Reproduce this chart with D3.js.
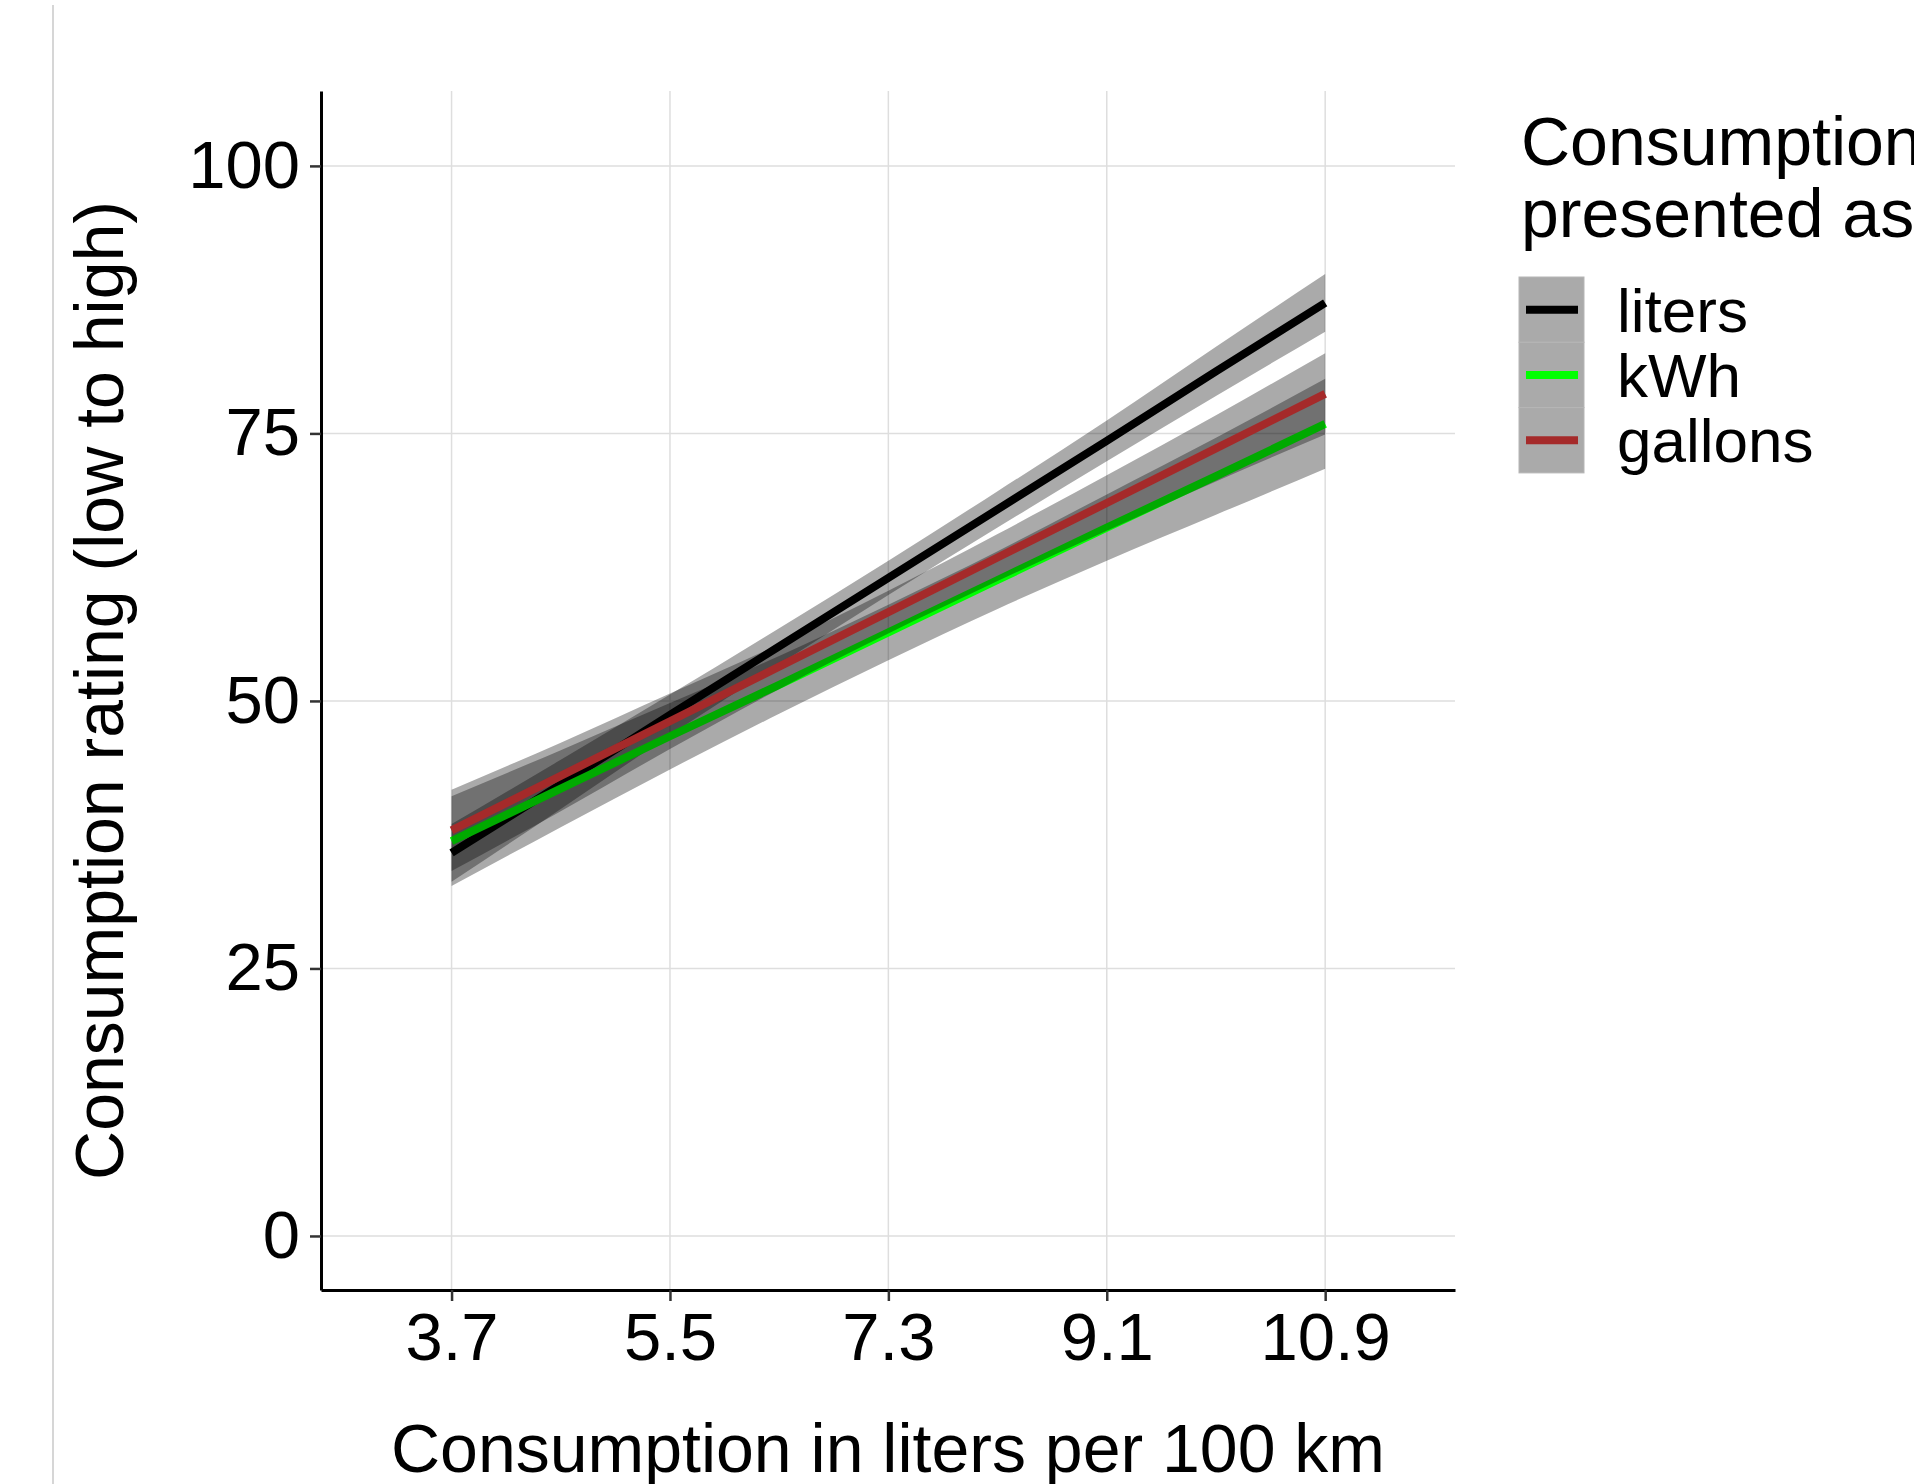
<!DOCTYPE html>
<html>
<head>
<meta charset="utf-8">
<script src="https://cdn.jsdelivr.net/npm/d3@7"></script>
<style>
  body { margin: 0; background: #fff; }
  text { font-family: "Liberation Sans", Arial, Helvetica, sans-serif; }
</style>
</head>
<body>
<script>

var xs = [3.7, 4.6, 5.5, 6.4, 7.3, 8.2, 9.1, 10.0, 10.9];
var xTicks = [3.7, 5.5, 7.3, 9.1, 10.9];
var yTicks = [0, 25, 50, 75, 100];

var seriesNames = ["liters", "kWh", "gallons"];
var seriesColors = ["#000000", "#00ff00", "#a52a2a"];

// fitted line + confidence band, per series
var litersFit  = [35.8, 42.2, 48.7, 55.1, 61.5, 67.9, 74.3, 80.8, 87.2];
var litersLow  = [33.1, 39.9, 46.8, 53.4, 59.9, 66.2, 72.4, 78.5, 84.5];
var litersHigh = [38.5, 44.5, 50.6, 56.8, 63.1, 69.6, 76.2, 83.1, 89.9];

var kwhFit  = [36.9, 41.8, 46.7, 51.5, 56.4, 61.3, 66.2, 71.0, 75.9];
var kwhLow  = [32.7, 38.2, 43.6, 48.8, 53.8, 58.6, 63.1, 67.4, 71.7];
var kwhHigh = [41.1, 45.4, 49.8, 54.2, 59.0, 64.0, 69.3, 74.6, 80.1];

var gallonsFit  = [37.9, 43.0, 48.1, 53.2, 58.3, 63.4, 68.5, 73.6, 78.7];
var gallonsLow  = [34.1, 39.7, 45.5, 51.1, 56.3, 61.2, 65.9, 70.5, 74.9];
var gallonsHigh = [41.7, 46.1, 50.7, 55.3, 60.3, 65.6, 71.1, 76.7, 82.5];

var fits = [litersFit, kwhFit, gallonsFit];
var lows = [litersLow, kwhLow, gallonsLow];
var highs = [litersHigh, kwhHigh, gallonsHigh];

var W = 1914, H = 1484;
var pLeft = 321, pRight = 1455, pTop = 91, pBottom = 1290;

var svg = d3.select("body").append("svg")
  .attr("width", W)
  .attr("height", H);

var x = d3.scaleLinear().domain([2.624, 11.97]).range([pLeft, pRight]);
var y = d3.scaleLinear().domain([-5.05, 107]).range([pBottom, pTop]);

// thin grey line at the far left
svg.append("line")
  .attr("x1", 53).attr("x2", 53)
  .attr("y1", 5).attr("y2", H)
  .attr("stroke", "#c8c8c8")
  .attr("stroke-width", 1.5);

// grid
var grid = svg.append("g");
grid.selectAll(".gx").data(xTicks).enter().append("line")
  .attr("x1", function(d) { return x(d); })
  .attr("x2", function(d) { return x(d); })
  .attr("y1", pTop).attr("y2", pBottom)
  .attr("stroke", "#dedede").attr("stroke-width", 1.5);
grid.selectAll(".gy").data(yTicks).enter().append("line")
  .attr("y1", function(d) { return y(d); })
  .attr("y2", function(d) { return y(d); })
  .attr("x1", pLeft).attr("x2", pRight)
  .attr("stroke", "#dedede").attr("stroke-width", 1.5);

// ribbons and lines, drawn group by group like geom_smooth does
var area = d3.area()
  .x(function(d) { return x(d.x); })
  .y0(function(d) { return y(d.lo); })
  .y1(function(d) { return y(d.hi); })
  .curve(d3.curveMonotoneX);

var line = d3.line()
  .x(function(d) { return x(d.x); })
  .y(function(d) { return y(d.fit); });

seriesNames.forEach(function(name, s) {
  var pts = xs.map(function(v, i) {
    return { x: v, fit: fits[s][i], lo: lows[s][i], hi: highs[s][i] };
  });
  svg.append("path")
    .datum(pts)
    .attr("d", area)
    .attr("fill", "#000")
    .attr("fill-opacity", 0.333);
  svg.append("path")
    .datum(pts)
    .attr("d", line)
    .attr("fill", "none")
    .attr("stroke", seriesColors[s])
    .attr("stroke-width", 8);
});

// axes
var xAxis = d3.axisBottom(x)
  .tickValues(xTicks)
  .tickFormat(d3.format(".1f"))
  .tickSize(11)
  .tickSizeOuter(0)
  .tickPadding(11);

var yAxis = d3.axisLeft(y)
  .tickValues(yTicks)
  .tickFormat(d3.format("d"))
  .tickSize(11)
  .tickSizeOuter(0)
  .tickPadding(10);

var gx = svg.append("g")
  .attr("transform", "translate(0," + pBottom + ")")
  .call(xAxis);
var gy = svg.append("g")
  .attr("transform", "translate(" + pLeft + ",0)")
  .call(yAxis);

[gx, gy].forEach(function(g) {
  g.select(".domain").attr("stroke", "#000").attr("stroke-width", 3);
  g.selectAll(".tick line").attr("stroke", "#333").attr("stroke-width", 2.5);
  g.selectAll(".tick text")
    .attr("fill", "#000")
    .style("font-size", "67px")
    .style("font-family", '"Liberation Sans", Arial, sans-serif');
});

// axis titles
svg.append("text")
  .attr("x", (pLeft + pRight) / 2)
  .attr("y", 1472)
  .attr("text-anchor", "middle")
  .style("font-size", "68px")
  .text("Consumption in liters per 100 km");

svg.append("text")
  .attr("transform", "translate(123," + ((pTop + pBottom) / 2) + ") rotate(-90)")
  .attr("text-anchor", "middle")
  .style("font-size", "68px")
  .text("Consumption rating (low to high)");

// legend
var legend = svg.append("g");
legend.append("text")
  .attr("x", 1521).attr("y", 165)
  .style("font-size", "68px")
  .text("Consumption");
legend.append("text")
  .attr("x", 1521).attr("y", 237)
  .style("font-size", "68px")
  .text("presented as");

var keyY = 277, keyH = 65.3;
var keys = legend.selectAll(".key").data(seriesNames).enter().append("g");
keys.append("rect")
  .attr("x", 1519)
  .attr("y", function(d, i) { return keyY + i * keyH; })
  .attr("width", 65)
  .attr("height", keyH)
  .attr("fill", "#aaaaaa")
  .attr("stroke", "#b6b6b6")
  .attr("stroke-width", 1);
keys.append("line")
  .attr("x1", 1526).attr("x2", 1578)
  .attr("y1", function(d, i) { return keyY + (i + 0.5) * keyH; })
  .attr("y2", function(d, i) { return keyY + (i + 0.5) * keyH; })
  .attr("stroke", function(d, i) { return seriesColors[i]; })
  .attr("stroke-width", 8);
keys.append("text")
  .attr("x", 1617)
  .attr("y", function(d, i) { return keyY + (i + 0.5) * keyH + 22; })
  .style("font-size", "62px")
  .text(function(d) { return d; });

</script>
</body>
</html>
